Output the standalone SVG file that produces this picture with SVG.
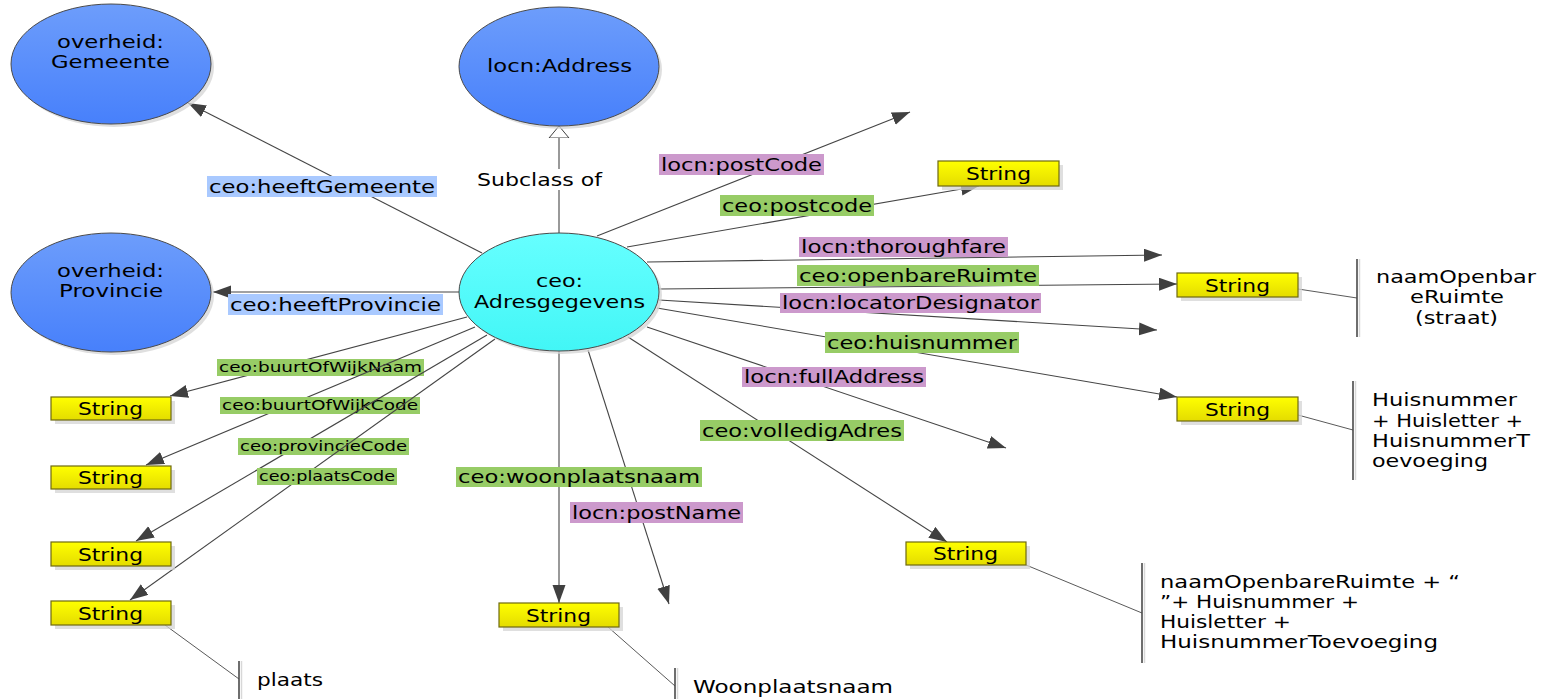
<svg xmlns="http://www.w3.org/2000/svg" width="1548" height="699" viewBox="0 0 1548 699">
<defs>
<linearGradient id="gBlue" x1="0" y1="0" x2="0" y2="1"><stop offset="0" stop-color="#6d9dfb"/><stop offset="1" stop-color="#4780fb"/></linearGradient>
<linearGradient id="gCyan" x1="0" y1="0" x2="0" y2="1"><stop offset="0" stop-color="#66ffff"/><stop offset="1" stop-color="#42f6f6"/></linearGradient>
<linearGradient id="gYel" x1="0" y1="0" x2="0" y2="1"><stop offset="0" stop-color="#ffff00"/><stop offset="1" stop-color="#e4dc00"/></linearGradient>
<marker id="arr" markerUnits="userSpaceOnUse" markerWidth="19" markerHeight="14" refX="18" refY="6.5" orient="auto"><path d="M0,0 L18,6.5 L0,13 z" fill="#404040"/></marker>
<marker id="hollow" markerUnits="userSpaceOnUse" markerWidth="14" markerHeight="24" refX="0" refY="11" orient="auto"><path d="M0,1 L12,11 L0,21 z" fill="#ffffff" stroke="#404040" stroke-width="1"/></marker>
</defs>
<style>
.ln{stroke:#454545;stroke-width:1.1;fill:none}
.a{marker-end:url(#arr)}
.call{stroke:#5a5a5a;stroke-width:1;fill:none}
.brk{stroke:#4a4a4a;stroke-width:1.6}
.brks{stroke:#d8d8d8;stroke-width:1.5}
.sh{fill:#d4d4d4;opacity:0.75}
.cls{fill:url(#gBlue);stroke:#4a4a4a;stroke-width:1}
.ctr{fill:url(#gCyan);stroke:#4a4a4a;stroke-width:1}
.str{fill:url(#gYel);stroke:#6e6a10;stroke-width:1.2}
text{font-family:"DejaVu Sans","Liberation Sans",sans-serif;fill:#000}
.t17{font-size:17px}
.t16{font-size:16px}
.t14{font-size:14px}
.green{fill:#97cc66}
.purple{fill:#cc99cc}
.blue{fill:#a9c9ff}
.white{fill:#ffffff}
</style>
<rect width="1548" height="699" fill="#ffffff"/>

<g id="connectors">
<g id="c-heeftGemeente"><line class="ln a" x1="482" y1="253" x2="188" y2="103"/><rect class="blue" x="207" y="176" width="230" height="21"/><text class="t17" x="209" y="192.5" textLength="226" lengthAdjust="spacingAndGlyphs">ceo:heeftGemeente</text></g>
<g id="c-heeftProvincie"><line class="ln a" x1="460" y1="292" x2="213" y2="292"/><rect class="blue" x="228" y="294" width="215" height="21"/><text class="t17" x="230" y="310.5" textLength="211" lengthAdjust="spacingAndGlyphs">ceo:heeftProvincie</text></g>
<g id="c-subclass"><line class="ln" x1="559" y1="234" x2="559" y2="138" marker-end="url(#hollow)"/><rect class="white" x="474" y="169" width="130" height="21"/><text class="t17" x="477" y="186" textLength="125" lengthAdjust="spacingAndGlyphs">Subclass of</text></g>
<g id="c-locnPostCode"><line class="ln a" x1="597" y1="236" x2="910" y2="112"/><rect class="purple" x="659" y="154" width="165" height="21"/><text class="t17" x="661" y="170.5" textLength="161" lengthAdjust="spacingAndGlyphs">locn:postCode</text></g>
<g id="c-ceoPostcode"><line class="ln a" x1="627" y1="247" x2="979" y2="186"/><rect class="green" x="720" y="195" width="154" height="21"/><text class="t17" x="722" y="211.5" textLength="150" lengthAdjust="spacingAndGlyphs">ceo:postcode</text></g>
<g id="c-thoroughfare"><line class="ln a" x1="647" y1="262" x2="1162" y2="255"/><rect class="purple" x="799" y="237" width="209" height="20"/><text class="t17" x="801" y="252.5" textLength="205" lengthAdjust="spacingAndGlyphs">locn:thoroughfare</text></g>
<g id="c-openbareRuimte"><line class="ln a" x1="659" y1="289" x2="1177" y2="284"/><rect class="green" x="797" y="265" width="242" height="21"/><text class="t17" x="799" y="281.5" textLength="238" lengthAdjust="spacingAndGlyphs">ceo:openbareRuimte</text></g>
<g id="c-locatorDesignator"><line class="ln a" x1="659" y1="300" x2="1157" y2="330"/><rect class="purple" x="780" y="293" width="261" height="20"/><text class="t17" x="782" y="308.5" textLength="257" lengthAdjust="spacingAndGlyphs">locn:locatorDesignator</text></g>
<g id="c-huisnummer"><line class="ln a" x1="657" y1="308" x2="1177" y2="397"/><rect class="green" x="825" y="332" width="194" height="21"/><text class="t17" x="827" y="348.5" textLength="190" lengthAdjust="spacingAndGlyphs">ceo:huisnummer</text></g>
<g id="c-fullAddress"><line class="ln a" x1="647" y1="327" x2="1006" y2="448"/><rect class="purple" x="742" y="367" width="184" height="20"/><text class="t17" x="744" y="382.5" textLength="180" lengthAdjust="spacingAndGlyphs">locn:fullAddress</text></g>
<g id="c-volledigAdres"><line class="ln a" x1="628" y1="337" x2="947" y2="542"/><rect class="green" x="700" y="420" width="204" height="21"/><text class="t17" x="702" y="436.5" textLength="200" lengthAdjust="spacingAndGlyphs">ceo:volledigAdres</text></g>
<g id="c-postName"><line class="ln a" x1="588" y1="350" x2="669" y2="604"/><rect class="purple" x="570" y="502" width="173" height="21"/><text class="t17" x="572" y="518.5" textLength="169" lengthAdjust="spacingAndGlyphs">locn:postName</text></g>
<g id="c-woonplaatsnaam"><line class="ln a" x1="559" y1="350" x2="559" y2="603"/><rect class="green" x="456" y="467" width="246" height="20"/><text class="t17" x="458" y="482.5" textLength="242" lengthAdjust="spacingAndGlyphs">ceo:woonplaatsnaam</text></g>
<g id="c-buurtOfWijkNaam"><line class="ln a" x1="467" y1="317" x2="170" y2="396"/><rect class="green" x="217" y="359" width="207" height="17"/><text class="t14" x="219" y="372" textLength="203" lengthAdjust="spacingAndGlyphs">ceo:buurtOfWijkNaam</text></g>
<g id="c-buurtOfWijkCode"><line class="ln a" x1="475" y1="327" x2="146" y2="465"/><rect class="green" x="220" y="397" width="200" height="17"/><text class="t14" x="222" y="410" textLength="196" lengthAdjust="spacingAndGlyphs">ceo:buurtOfWijkCode</text></g>
<g id="c-provincieCode"><line class="ln a" x1="487" y1="335" x2="136" y2="541"/><rect class="green" x="238" y="438" width="171" height="17"/><text class="t14" x="240" y="451" textLength="167" lengthAdjust="spacingAndGlyphs">ceo:provincieCode</text></g>
<g id="c-plaatsCode"><line class="ln a" x1="495" y1="339" x2="130" y2="600"/><rect class="green" x="257" y="468" width="140" height="17"/><text class="t14" x="259" y="481" textLength="136" lengthAdjust="spacingAndGlyphs">ceo:plaatsCode</text></g>
<g id="callout-lines">
<line class="call" x1="165" y1="625" x2="239" y2="679"/>
<line class="call" x1="608" y1="627" x2="675" y2="686"/>
<line class="call" x1="1298" y1="289" x2="1357" y2="298"/>
<line class="call" x1="1298" y1="415" x2="1353" y2="430"/>
<line class="call" x1="1026" y1="565" x2="1142" y2="613"/>
</g>
</g>

<g id="n-gemeente"><ellipse class="sh" cx="114" cy="67" rx="100" ry="60"/><ellipse class="cls" cx="111" cy="64" rx="100" ry="60"/><text class="t17" x="57" y="48" textLength="107" lengthAdjust="spacingAndGlyphs">overheid:</text><text class="t17" x="51" y="68" textLength="119" lengthAdjust="spacingAndGlyphs">Gemeente</text></g>
<g id="n-address"><ellipse class="sh" cx="562" cy="69.5" rx="100" ry="59.5"/><ellipse class="cls" cx="559" cy="66.5" rx="100" ry="59.5"/><text class="t17" x="487" y="72" textLength="145" lengthAdjust="spacingAndGlyphs">locn:Address</text></g>
<g id="n-provincie"><ellipse class="sh" cx="114" cy="295.5" rx="100" ry="59.5"/><ellipse class="cls" cx="111" cy="292.5" rx="100" ry="59.5"/><text class="t17" x="57" y="277" textLength="107" lengthAdjust="spacingAndGlyphs">overheid:</text><text class="t17" x="59" y="297" textLength="104" lengthAdjust="spacingAndGlyphs">Provincie</text></g>
<g id="n-adresgegevens"><ellipse class="sh" cx="562" cy="295" rx="100" ry="59"/><ellipse class="ctr" cx="559" cy="292" rx="100" ry="59"/><text class="t17" x="536" y="287" textLength="47" lengthAdjust="spacingAndGlyphs">ceo:</text><text class="t17" x="474" y="308" textLength="171" lengthAdjust="spacingAndGlyphs">Adresgegevens</text></g>

<g id="n-string1"><rect class="sh" x="942" y="165" width="121" height="25"/><rect class="str" x="938" y="161" width="121" height="25"/><text class="t17" x="966" y="180" textLength="65" lengthAdjust="spacingAndGlyphs">String</text></g>
<g id="n-string2"><rect class="sh" x="1181" y="277" width="121" height="24"/><rect class="str" x="1177" y="273" width="121" height="24"/><text class="t17" x="1205" y="292" textLength="65" lengthAdjust="spacingAndGlyphs">String</text></g>
<g id="n-string3"><rect class="sh" x="1181" y="401" width="121" height="24"/><rect class="str" x="1177" y="397" width="121" height="24"/><text class="t17" x="1205" y="416" textLength="65" lengthAdjust="spacingAndGlyphs">String</text></g>
<g id="n-string4"><rect class="sh" x="910" y="546" width="120" height="23"/><rect class="str" x="906" y="542" width="120" height="23"/><text class="t17" x="933" y="560" textLength="65" lengthAdjust="spacingAndGlyphs">String</text></g>
<g id="n-string5"><rect class="sh" x="503" y="607" width="120" height="24"/><rect class="str" x="499" y="603" width="120" height="24"/><text class="t17" x="526" y="622" textLength="65" lengthAdjust="spacingAndGlyphs">String</text></g>
<g id="n-string6"><rect class="sh" x="55" y="401" width="120" height="23"/><rect class="str" x="51" y="397" width="120" height="23"/><text class="t17" x="78" y="415" textLength="65" lengthAdjust="spacingAndGlyphs">String</text></g>
<g id="n-string7"><rect class="sh" x="55" y="470" width="120" height="23"/><rect class="str" x="51" y="466" width="120" height="23"/><text class="t17" x="78" y="484" textLength="65" lengthAdjust="spacingAndGlyphs">String</text></g>
<g id="n-string8"><rect class="sh" x="55" y="546" width="120" height="24"/><rect class="str" x="51" y="542" width="120" height="24"/><text class="t17" x="78" y="561" textLength="65" lengthAdjust="spacingAndGlyphs">String</text></g>
<g id="n-string9"><rect class="sh" x="55" y="605" width="120" height="24"/><rect class="str" x="51" y="601" width="120" height="24"/><text class="t17" x="78" y="620" textLength="65" lengthAdjust="spacingAndGlyphs">String</text></g>

<g id="note-plaats"><line class="brks" x1="241.5" y1="661" x2="241.5" y2="699"/><line class="brk" x1="239" y1="661" x2="239" y2="699"/><text class="t17" x="257" y="686" textLength="66" lengthAdjust="spacingAndGlyphs">plaats</text></g>
<g id="note-woonplaats"><line class="brks" x1="677.5" y1="668" x2="677.5" y2="699"/><line class="brk" x1="675" y1="668" x2="675" y2="699"/><text class="t17" x="693" y="693" textLength="200" lengthAdjust="spacingAndGlyphs">Woonplaatsnaam</text></g>
<g id="note-straat"><line class="brks" x1="1359.5" y1="259" x2="1359.5" y2="337"/><line class="brk" x1="1357" y1="259" x2="1357" y2="337"/>
<text class="t17" x="1376" y="283" textLength="160" lengthAdjust="spacingAndGlyphs">naamOpenbar</text>
<text class="t17" x="1410" y="303" textLength="94" lengthAdjust="spacingAndGlyphs">eRuimte</text>
<text class="t17" x="1415" y="324" textLength="83" lengthAdjust="spacingAndGlyphs">(straat)</text></g>
<g id="note-huisnummer"><line class="brks" x1="1355.5" y1="381" x2="1355.5" y2="480"/><line class="brk" x1="1353" y1="381" x2="1353" y2="480"/>
<text class="t17" x="1372" y="406" textLength="145" lengthAdjust="spacingAndGlyphs">Huisnummer</text>
<text class="t17" x="1372" y="426.5" textLength="151" lengthAdjust="spacingAndGlyphs">+ Huisletter +</text>
<text class="t17" x="1372" y="447" textLength="158" lengthAdjust="spacingAndGlyphs">HuisnummerT</text>
<text class="t17" x="1372" y="467" textLength="116" lengthAdjust="spacingAndGlyphs">oevoeging</text></g>
<g id="note-volledig"><line class="brks" x1="1144.5" y1="563" x2="1144.5" y2="663"/><line class="brk" x1="1142" y1="563" x2="1142" y2="663"/>
<text class="t17" x="1160" y="588" textLength="300" lengthAdjust="spacingAndGlyphs">naamOpenbareRuimte + “</text>
<text class="t17" x="1160" y="608" textLength="199" lengthAdjust="spacingAndGlyphs">”+ Huisnummer +</text>
<text class="t17" x="1160" y="628" textLength="131" lengthAdjust="spacingAndGlyphs">Huisletter +</text>
<text class="t17" x="1160" y="648" textLength="278" lengthAdjust="spacingAndGlyphs">HuisnummerToevoeging</text></g>
</svg>
